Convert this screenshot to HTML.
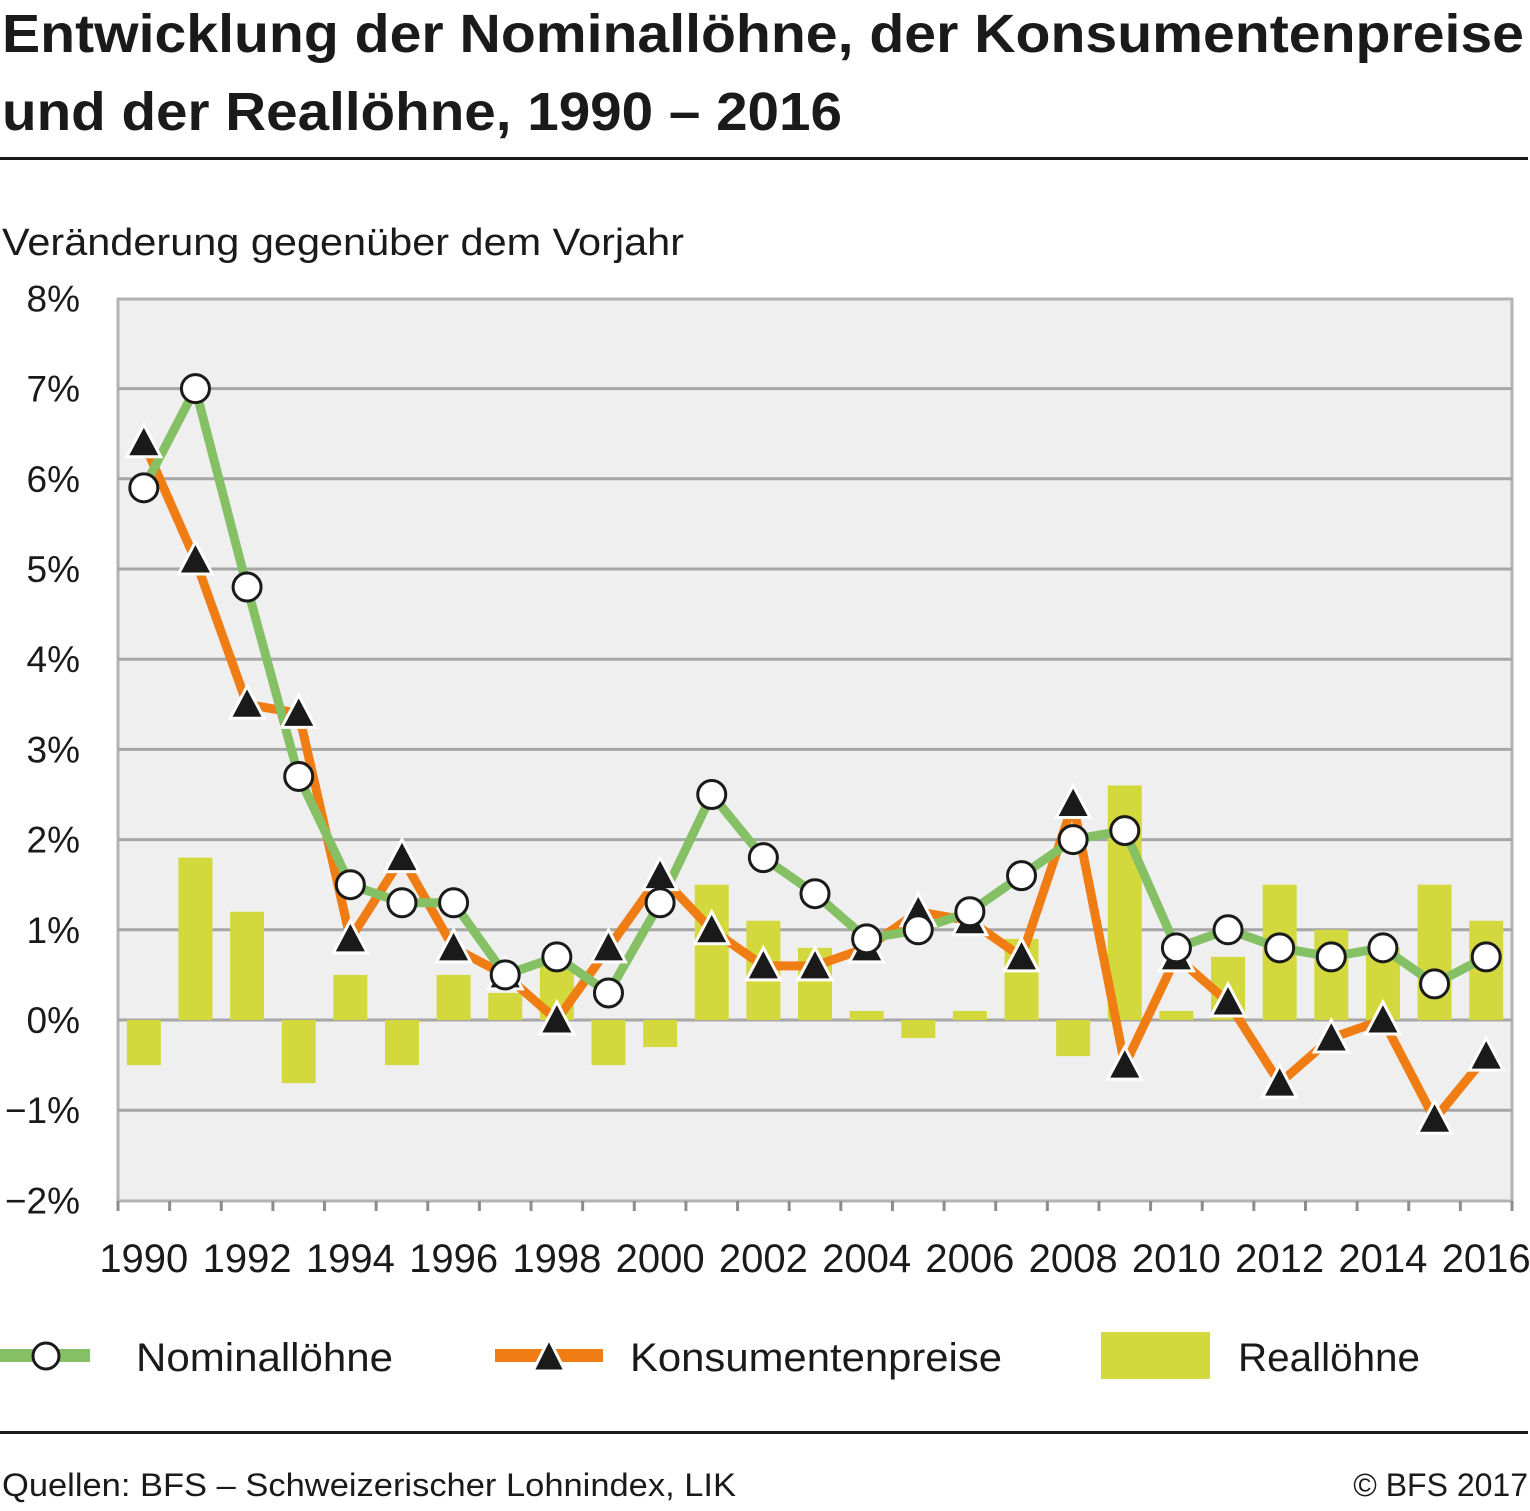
<!DOCTYPE html>
<html><head><meta charset="utf-8"><style>
body{margin:0;background:#fff;}
svg text{font-family:"Liberation Sans",sans-serif;fill:#1a1a1a;}
</style></head><body>
<svg id="c" width="1530" height="1506" xmlns="http://www.w3.org/2000/svg">
<text x="2" y="52" font-size="54" font-weight="bold" textLength="1522" lengthAdjust="spacingAndGlyphs">Entwicklung der Nominallöhne, der Konsumentenpreise</text>
<text x="2" y="130" font-size="54" font-weight="bold" textLength="840" lengthAdjust="spacingAndGlyphs">und der Reallöhne, 1990 – 2016</text>
<rect x="0" y="157" width="1528" height="3" fill="#1a1a1a"/>
<text x="2" y="255" font-size="38" textLength="682" lengthAdjust="spacingAndGlyphs">Veränderung gegenüber dem Vorjahr</text>
<rect x="118" y="299" width="1394" height="902" fill="#efefef" stroke="#b3b3b3" stroke-width="3"/>
<g id="grid"></g><g id="bars"></g><g id="lines"></g><g id="axes"></g>
<g>
<rect x="0" y="1349" width="90" height="13" fill="#85c065"/>
<circle cx="46" cy="1356" r="13" fill="#fff" stroke="#1a1a1a" stroke-width="3"/>
<text x="136" y="1371" font-size="40" textLength="257" lengthAdjust="spacingAndGlyphs">Nominallöhne</text>
<rect x="495" y="1349" width="108" height="13" fill="#ef7d14"/>
<polygon points="549,1339 565,1371 533,1371" fill="#1a1a1a" stroke="#fff" stroke-width="3"/>
<text x="630" y="1371" font-size="40" textLength="372" lengthAdjust="spacingAndGlyphs">Konsumentenpreise</text>
<rect x="1101" y="1332" width="109" height="47" fill="#d3d93c"/>
<text x="1238" y="1371" font-size="40" textLength="182" lengthAdjust="spacingAndGlyphs">Reallöhne</text>
</g>
<rect x="0" y="1431" width="1528" height="3" fill="#1a1a1a"/>
<text x="2" y="1496" font-size="32" textLength="734" lengthAdjust="spacingAndGlyphs">Quellen: BFS – Schweizerischer Lohnindex, LIK</text>
<text x="1528" y="1496" font-size="32" text-anchor="end">© BFS 2017</text>
</svg>
<script>
const years=[1990,1991,1992,1993,1994,1995,1996,1997,1998,1999,2000,2001,2002,2003,2004,2005,2006,2007,2008,2009,2010,2011,2012,2013,2014,2015,2016];
const nominal=[5.9,7.0,4.8,2.7,1.5,1.3,1.3,0.5,0.7,0.3,1.3,2.5,1.8,1.4,0.9,1.0,1.2,1.6,2.0,2.1,0.8,1.0,0.8,0.7,0.8,0.4,0.7];
const cpi=[6.4,5.1,3.5,3.4,0.9,1.8,0.8,0.5,0.0,0.8,1.6,1.0,0.6,0.6,0.8,1.2,1.1,0.7,2.4,-0.5,0.7,0.2,-0.7,-0.2,0.0,-1.1,-0.4];
const real=[-0.5,1.8,1.2,-0.7,0.5,-0.5,0.5,0.3,0.6,-0.5,-0.3,1.5,1.1,0.8,0.1,-0.2,0.1,0.9,-0.4,2.6,0.1,0.7,1.5,1.0,0.8,1.5,1.1];
const yTicks=[-2,-1,0,1,2,3,4,5,6,7,8];
const NS="http://www.w3.org/2000/svg";
const X0=118,W=1394,n=years.length,step=W/n;
const x=i=>X0+step*(i+0.5);
const y=v=>1020-v*90.2;
function mk(tag,attrs,parent){const e=document.createElementNS(NS,tag);for(const k in attrs)e.setAttribute(k,attrs[k]);document.getElementById(parent).appendChild(e);return e;}
yTicks.forEach(t=>{
 if(t>-2&&t<8){const l=mk('line',{x1:X0,x2:X0+W,y1:y(t),y2:y(t),stroke:'#a6a6a6','stroke-width':3},'grid');
 
 }
 const tx=mk('text',{x:80,y:y(t)+13,'font-size':37,'text-anchor':'end'},'axes');
 tx.textContent=(t<0?'−'+(-t):t)+'%';
 
 
});
for(let i=0;i<=n;i++){const l=mk('line',{x1:X0+step*i,x2:X0+step*i,y1:1201,y2:1211,stroke:'#8c8c8c','stroke-width':3},'axes');
 
 }
years.forEach((yr,i)=>{
 if(i%2===0){const tx=mk('text',{x:x(i),y:1272,'font-size':40,'text-anchor':'middle'},'axes');tx.textContent=yr;
 
 }
 const v=real[i];
 const b=mk('rect',{x:x(i)-17,width:34,y:Math.min(y(v),y(0)),height:Math.abs(y(v)-y(0)),fill:'#d3d93c'},'bars');
 
 
});
const cl=mk('polyline',{points:cpi.map((v,i)=>x(i)+','+y(v)).join(' '),fill:'none',stroke:'#ef7d14','stroke-width':9,'stroke-linejoin':'round'},'lines');


const nl=mk('polyline',{points:nominal.map((v,i)=>x(i)+','+y(v)).join(' '),fill:'none',stroke:'#85c065','stroke-width':9,'stroke-linejoin':'round'},'lines');


cpi.forEach((v,i)=>{const cx=x(i),cy=y(v);
 const p=mk('polygon',{points:`${cx},${cy-18} ${cx+17},${cy+14} ${cx-17},${cy+14}`,fill:'#1a1a1a',stroke:'#fff','stroke-width':3},'lines');
 
 });
nominal.forEach((v,i)=>{
 const c=mk('circle',{cx:x(i),cy:y(v),r:14,fill:'#fff',stroke:'#1a1a1a','stroke-width':3},'lines');
 
 });
</script>
</body></html>
